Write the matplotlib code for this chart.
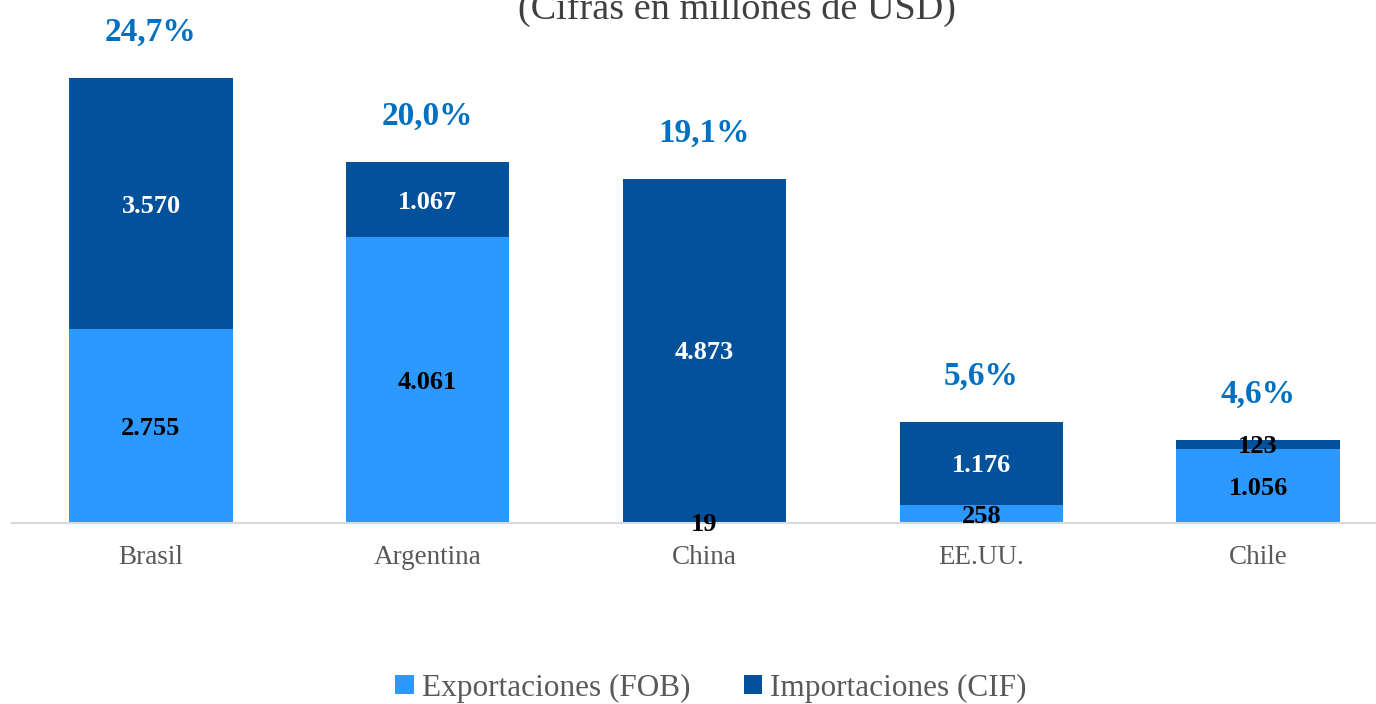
import matplotlib.pyplot as plt

# Datos
paises = ['Brasil', 'Argentina', 'China', 'EE.UU.', 'Chile']
exportaciones = [2755, 4061, 19, 258, 1056]
importaciones = [3570, 1067, 4873, 1176, 123]
participacion = ['24,7%', '20,0%', '19,1%', '5,6%', '4,6%']

plt.rcParams['font.family'] = ['Liberation Serif', 'DejaVu Serif']

c_exp = '#2B99FF'
c_imp = '#03519B'

fig = plt.figure(figsize=(13.76, 7.04), dpi=100)
ax = fig.add_axes([12 / 1376, (704 - 523) / 704, 1364 / 1376, 523 / 704])

x = range(len(paises))
ax.bar(x, exportaciones, width=0.59, color=c_exp, label='Exportaciones (FOB)')
ax.bar(x, importaciones, width=0.59, bottom=exportaciones, color=c_imp,
       label='Importaciones (CIF)')

for i in x:
    e, m = exportaciones[i], importaciones[i]
    ax.text(i, e / 2, f'{e:,}'.replace(',', '.'), ha='center',
            va='center_baseline', fontsize=19, fontweight='bold', color='black')
    col = 'black' if m < 200 else 'white'
    ax.text(i, e + m / 2, f'{m:,}'.replace(',', '.'), ha='center',
            va='center_baseline', fontsize=19, fontweight='bold', color=col)
    ax.text(i, e + m + 700, participacion[i], ha='center',
            va='center_baseline', fontsize=24, fontweight='bold',
            color='#0070C0')

ax.set_xlim(-0.502, 4.426)
ax.set_ylim(0, 7433)
ax.set_xticks(list(x))
ax.set_xticklabels(paises, fontsize=19.5, color='#595959')
ax.tick_params(axis='x', length=0, pad=16)
ax.set_yticks([])
for s in ['top', 'right', 'left']:
    ax.spines[s].set_visible(False)
ax.spines['bottom'].set_color('#D9D9D9')
ax.spines['bottom'].set_linewidth(1.5)

fig.text(0.5355, 1 - 9 / 704, '(Cifras en millones de USD)', ha='center',
         va='center', fontsize=27.5, color='#404040')

fig.legend(loc='center', bbox_to_anchor=(0.5167, 1 - 688 / 704), ncol=2,
           frameon=False, fontsize=22.5, handlelength=0.6, handleheight=0.6,
           handletextpad=0.25, columnspacing=1.7, labelcolor='#595959')

fig.savefig('out.png', dpi=100)
